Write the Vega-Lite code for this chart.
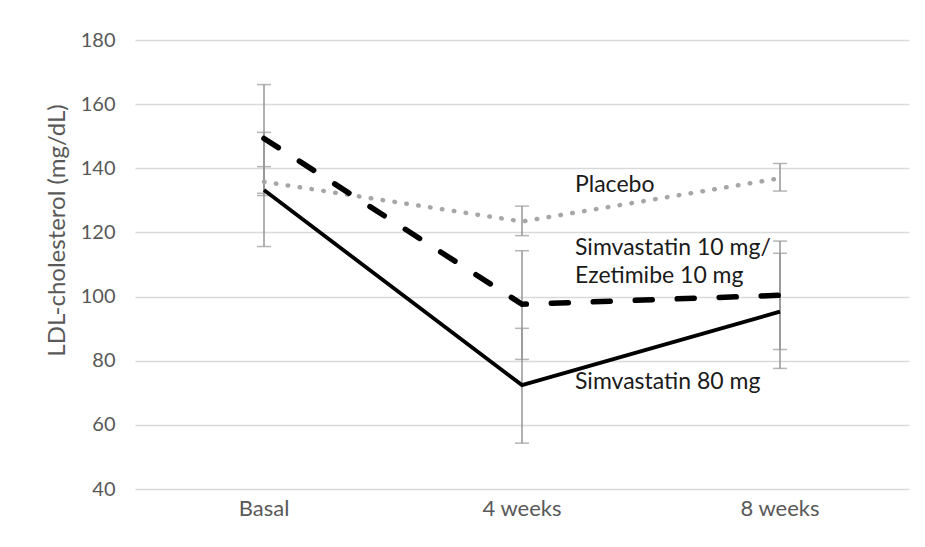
{
  "$schema": "https://vega.github.io/schema/vega-lite/v6.json",
  "autosize": "none",
  "width": 774,
  "height": 449,
  "padding": {"left": 135, "top": 40, "right": 16, "bottom": 58},
  "background": "white",
  "config": {
    "view": {"stroke": null},
    "font": "Lato",
    "axis": {"labelFont": "Lato", "titleFont": "Lato"}
  },
  "datasets": {
    "ldl": [
      {"group": "Placebo", "time": "Basal", "mean": 135.8, "lo": 131.5, "hi": 140.5},
      {"group": "Placebo", "time": "4 weeks", "mean": 123.4, "lo": 119.0, "hi": 128.2},
      {"group": "Placebo", "time": "8 weeks", "mean": 136.9, "lo": 132.9, "hi": 141.5},
      {"group": "Simvastatin 10 mg/Ezetimibe 10 mg", "time": "Basal", "mean": 149.3, "lo": 132.2, "hi": 166.1},
      {"group": "Simvastatin 10 mg/Ezetimibe 10 mg", "time": "4 weeks", "mean": 97.6, "lo": 80.4, "hi": 114.3},
      {"group": "Simvastatin 10 mg/Ezetimibe 10 mg", "time": "8 weeks", "mean": 100.4, "lo": 83.5, "hi": 117.3},
      {"group": "Simvastatin 80 mg", "time": "Basal", "mean": 133.2, "lo": 115.6, "hi": 151.2},
      {"group": "Simvastatin 80 mg", "time": "4 weeks", "mean": 72.4, "lo": 54.3, "hi": 90.1},
      {"group": "Simvastatin 80 mg", "time": "8 weeks", "mean": 95.3, "lo": 77.6, "hi": 113.5}
    ],
    "labels": [
      {"text": "Placebo", "time": "4 weeks", "value": 134.8},
      {"text": "Simvastatin 10 mg/", "time": "4 weeks", "value": 115.1},
      {"text": "Ezetimibe 10 mg", "time": "4 weeks", "value": 106.4},
      {"text": "Simvastatin 80 mg", "time": "4 weeks", "value": 73.4}
    ]
  },
  "encoding": {
    "x": {
      "field": "time",
      "type": "nominal",
      "sort": ["Basal", "4 weeks", "8 weeks"],
      "scale": {"type": "band", "paddingInner": 0, "paddingOuter": 0},
      "axis": {
        "title": null,
        "labelAngle": 0,
        "labelFontSize": 22,
        "labelColor": "#595959",
        "labelPadding": 9,
        "labelDx": -6,
        "ticks": false,
        "domain": false,
        "grid": false
      }
    }
  },
  "layer": [
    {
      "data": {"name": "ldl"},
      "mark": {"type": "rule", "color": "#969696", "strokeWidth": 1.5},
      "encoding": {
        "y": {
          "field": "lo",
          "type": "quantitative",
          "scale": {"domain": [40, 180], "nice": false, "zero": false},
          "axis": {
            "title": "LDL-cholesterol (mg/dL)",
            "titleFontSize": 24,
            "titleFontWeight": "normal",
            "titleColor": "#595959",
            "titleAngle": -90,
            "titleBaseline": "middle",
            "titleAlign": "center",
            "titleX": -78,
            "titleY": 190,
            "values": [40, 60, 80, 100, 120, 140, 160, 180],
            "labelFontSize": 20,
            "labelColor": "#595959",
            "labelPadding": 20,
            "ticks": false,
            "domain": false,
            "grid": true,
            "gridColor": "#d9d9d9",
            "gridWidth": 1.5
          }
        },
        "y2": {"field": "hi"}
      }
    },
    {
      "data": {"name": "ldl"},
      "transform": [{"fold": ["lo", "hi"], "as": ["end", "bound"]}],
      "mark": {"type": "tick", "color": "#969696", "thickness": 1.5, "size": 14, "orient": "horizontal"},
      "encoding": {
        "y": {"field": "bound", "type": "quantitative"}
      }
    },
    {
      "data": {"name": "ldl"},
      "transform": [{"filter": "datum.group === 'Placebo'"}],
      "mark": {"type": "line", "color": "#a6a6a6", "strokeWidth": 4.5, "strokeDash": [0.5, 11.5], "strokeCap": "round"},
      "encoding": {
        "y": {"field": "mean", "type": "quantitative"}
      }
    },
    {
      "data": {"name": "ldl"},
      "transform": [{"filter": "datum.group === 'Simvastatin 10 mg/Ezetimibe 10 mg'"}],
      "mark": {"type": "line", "color": "#000000", "strokeWidth": 5.5, "strokeDash": [17, 25], "strokeCap": "round"},
      "encoding": {
        "y": {"field": "mean", "type": "quantitative"}
      }
    },
    {
      "data": {"name": "ldl"},
      "transform": [{"filter": "datum.group === 'Simvastatin 80 mg'"}],
      "mark": {"type": "line", "color": "#000000", "strokeWidth": 3.8},
      "encoding": {
        "y": {"field": "mean", "type": "quantitative"}
      }
    },
    {
      "data": {"name": "labels"},
      "mark": {"type": "text", "align": "left", "baseline": "middle", "dx": 53, "fontSize": 23, "color": "#1a1a1a", "font": "Lato"},
      "encoding": {
        "y": {"field": "value", "type": "quantitative"},
        "text": {"field": "text"}
      }
    }
  ]
}
